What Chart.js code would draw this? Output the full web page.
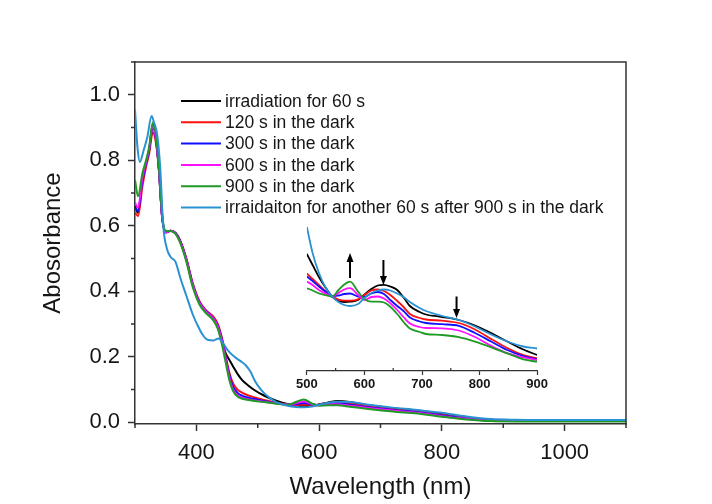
<!DOCTYPE html>
<html><head><meta charset="utf-8">
<script src="https://cdn.jsdelivr.net/npm/chart.js@4.4.1/dist/chart.umd.min.js"></script>
<style>
html,body{margin:0;padding:0;background:#fff;}
#wrap{position:relative;width:712px;height:504px;background:#fff;}
#main{position:absolute;left:0;top:0;}
#inset{position:absolute;left:294px;top:211px;}
</style></head><body>
<div id="wrap"><canvas id="main" width="712" height="504"></canvas><canvas id="inset" width="256" height="190"></canvas></div>
<script>
// ---------- DATA ----------
const seriesLabels = ['irradiation for 60 s','120 s in the dark','300 s in the dark','600 s in the dark','900 s in the dark','irraidaiton for another 60 s after 900 s in the dark'];
const seriesColors = ['#000000','#ff1010','#1010ff','#ff10ff','#1f9a24','#2a92d2'];

const xTicks = [400, 600, 800, 1000];
const xMinorTicks = [300, 500, 700, 900, 1100];
const yTicks = [0.0, 0.2, 0.4, 0.6, 0.8, 1.0];
const yMinorTicks = [0.1, 0.3, 0.5, 0.7, 0.9, 1.1];

const wlMain = [300,305,312,318,323,329,334,339,344,350, 358,366,374,384,394,405,416,427,435,442, 448,454,460,467,475,485,495,510,530,550, 563,575,588,600,615,630,650,680,720,760, 800,840,880,920,1000,1100];
const absIrr60 = [0.66,0.64,0.74,0.79,0.83,0.91,0.87,0.77,0.63,0.58, 0.585,0.578,0.552,0.495,0.42,0.365,0.337,0.317,0.29,0.245, 0.21,0.19,0.17,0.148,0.128,0.112,0.098,0.082,0.066,0.055, 0.051,0.05,0.051,0.055,0.061,0.065,0.062,0.052,0.043,0.036, 0.026,0.015,0.008,0.006,0.005,0.005];
const absDark120 = [0.64,0.63,0.72,0.78,0.82,0.885,0.855,0.77,0.63,0.58, 0.585,0.578,0.553,0.498,0.425,0.37,0.342,0.324,0.3,0.255, 0.2,0.15,0.118,0.1,0.09,0.082,0.076,0.068,0.06,0.054, 0.053,0.054,0.053,0.054,0.059,0.061,0.057,0.049,0.04,0.033, 0.023,0.013,0.007,0.005,0.005,0.005];
const absDark300 = [0.655,0.645,0.735,0.79,0.83,0.9,0.865,0.77,0.63,0.58, 0.585,0.578,0.552,0.496,0.422,0.367,0.34,0.32,0.295,0.25, 0.195,0.142,0.108,0.09,0.081,0.075,0.071,0.065,0.059,0.054, 0.056,0.059,0.055,0.053,0.057,0.058,0.054,0.046,0.038,0.031, 0.021,0.012,0.006,0.005,0.005,0.005];
const absDark600 = [0.67,0.655,0.745,0.795,0.835,0.905,0.87,0.775,0.632,0.58, 0.585,0.577,0.55,0.494,0.42,0.365,0.338,0.318,0.292,0.245, 0.19,0.135,0.1,0.083,0.075,0.07,0.067,0.063,0.058,0.054, 0.059,0.064,0.056,0.052,0.055,0.055,0.051,0.044,0.036,0.029, 0.019,0.011,0.005,0.004,0.004,0.004];
const absDark900 = [0.74,0.69,0.76,0.80,0.84,0.915,0.88,0.78,0.64,0.585, 0.584,0.575,0.546,0.488,0.413,0.36,0.333,0.313,0.285,0.235, 0.18,0.127,0.095,0.079,0.072,0.068,0.065,0.062,0.057,0.054, 0.063,0.07,0.058,0.051,0.052,0.052,0.048,0.041,0.033,0.027, 0.017,0.009,0.004,0.003,0.003,0.003];
const wlIrrAgain = [300,304,308,314,320,327,331,336,341,346, 352,358,366,374,384,394,401,410,418,428, 436,444,452,462,472,480,488,495,503,510, 520,532,550,563,575,588,600,615,630,650, 680,720,760,800,840,880,920,1000,1100];
const absIrrAgain = [0.955,0.84,0.795,0.83,0.87,0.935,0.915,0.88,0.78,0.6, 0.53,0.505,0.49,0.44,0.385,0.33,0.3,0.268,0.252,0.25, 0.256,0.24,0.218,0.2,0.187,0.175,0.155,0.128,0.105,0.09, 0.074,0.06,0.05,0.047,0.046,0.048,0.054,0.06,0.063,0.062, 0.054,0.045,0.038,0.029,0.018,0.01,0.008,0.007,0.007];

// inset (magnified 500-900 nm, arbitrary units)
const insetXTicks = [500, 600, 700, 800, 900];
const insetXMinor = [550, 650, 750, 850];
const wlInset = [500,510,521,533,544,555,565,575,589,600, 612,623,634,645,657,668,679,696,707,735, 764,792,820,848,876,900];
const insIrr60 = [1.17,1.06,0.94,0.83,0.745,0.70,0.69,0.693,0.71,0.765, 0.82,0.855,0.862,0.845,0.81,0.735,0.65,0.59,0.565,0.54, 0.51,0.455,0.38,0.295,0.215,0.16];
const insDark120 = [0.975,0.92,0.86,0.795,0.745,0.715,0.703,0.703,0.717,0.76, 0.805,0.815,0.8,0.76,0.7,0.64,0.57,0.53,0.515,0.503, 0.48,0.415,0.32,0.23,0.16,0.127];
const insDark300 = [0.945,0.9,0.845,0.79,0.745,0.755,0.77,0.775,0.745,0.742, 0.775,0.79,0.77,0.71,0.65,0.6,0.535,0.495,0.48,0.468, 0.452,0.38,0.295,0.21,0.15,0.117];
const insDark600 = [0.895,0.86,0.81,0.775,0.745,0.78,0.815,0.828,0.76,0.71, 0.74,0.745,0.725,0.677,0.61,0.54,0.475,0.44,0.43,0.427, 0.405,0.34,0.252,0.178,0.137,0.11];
const insDark900 = [0.827,0.805,0.777,0.758,0.745,0.81,0.865,0.893,0.793,0.72, 0.693,0.693,0.685,0.643,0.57,0.49,0.425,0.39,0.37,0.36, 0.338,0.293,0.237,0.177,0.117,0.093];
const insIrrAgain = [1.44,1.18,0.98,0.83,0.745,0.69,0.66,0.65,0.67,0.73, 0.78,0.805,0.815,0.805,0.775,0.74,0.69,0.63,0.6,0.55, 0.51,0.445,0.365,0.295,0.245,0.225];
// arrows in the inset: wavelength, start value, end value
const insetArrows = [[575, 0.93, 1.18], [633, 1.11, 0.86], [760, 0.745, 0.53]];

// ---------- HELPERS ----------
const FONT = "'Liberation Sans', Arial, Helvetica, sans-serif";
const TXT = '#161616';
const AX = '#333333';
const xy = (xs, ys) => xs.map((x, i) => ({x: x, y: ys[i]}));

const mainSeries = [
  xy(wlMain, absIrr60), xy(wlMain, absDark120), xy(wlMain, absDark300),
  xy(wlMain, absDark600), xy(wlMain, absDark900), xy(wlIrrAgain, absIrrAgain)
];
const insetSeries = [
  xy(wlInset, insIrr60), xy(wlInset, insDark120), xy(wlInset, insDark300),
  xy(wlInset, insDark600), xy(wlInset, insDark900), xy(wlInset, insIrrAgain)
];

const framePlugin = {
  id: 'frame',
  afterDraw(chart) {
    const {ctx, chartArea: a} = chart;
    ctx.save();
    ctx.strokeStyle = AX; ctx.lineWidth = 1.5;
    ctx.beginPath();
    ctx.moveTo(a.left, a.top); ctx.lineTo(a.right, a.top); ctx.lineTo(a.right, a.bottom);
    ctx.stroke();
    const xs = chart.scales.x, ys = chart.scales.y;
    ctx.beginPath();
    xMinorTicks.forEach(v => { const p = xs.getPixelForValue(v); ctx.moveTo(p, a.bottom); ctx.lineTo(p, a.bottom + 4); });
    yMinorTicks.forEach(v => { const p = ys.getPixelForValue(v); ctx.moveTo(a.left, p); ctx.lineTo(a.left - 4, p); });
    ctx.stroke();
    ctx.restore();
  }
};

const legendPlugin = {
  id: 'inlegend',
  afterDraw(chart) {
    const {ctx, chartArea: a} = chart;
    ctx.save();
    ctx.font = '17.5px ' + FONT;
    ctx.textBaseline = 'middle';
    ctx.fillStyle = TXT;
    const x0 = a.left + 46, y0 = a.top + 39, dy = 21.3;
    seriesLabels.forEach((lab, i) => {
      const y = y0 + i * dy;
      ctx.strokeStyle = seriesColors[i]; ctx.lineWidth = 2;
      ctx.beginPath(); ctx.moveTo(x0, y); ctx.lineTo(x0 + 40, y); ctx.stroke();
      ctx.fillText(lab, x0 + 44, y + 1);
    });
    ctx.restore();
  }
};

new Chart(document.getElementById('main'), {
  type: 'line',
  data: {
    datasets: mainSeries.map((d, i) => ({
      label: seriesLabels[i], data: d, borderColor: seriesColors[i], backgroundColor: seriesColors[i],
      borderWidth: 2, pointRadius: 0, fill: false, cubicInterpolationMode: 'monotone', order: 5 - i
    }))
  },
  options: {
    responsive: false, animation: false, parsing: false,
    layout: {padding: {top: 62, right: 86, left: 0, bottom: 0}},
    plugins: {legend: {display: false}, tooltip: {enabled: false}},
    scales: {
      x: {
        type: 'linear', min: 300, max: 1100,
        afterBuildTicks: s => { s.ticks = xTicks.map(v => ({value: v})); },
        afterFit: s => { s.height = 80; },
        ticks: {font: {family: FONT, size: 22}, color: TXT, padding: 9, maxRotation: 0, callback: v => String(v)},
        grid: {drawOnChartArea: false, drawTicks: true, tickLength: 7, tickColor: AX, tickWidth: 1.5},
        border: {color: AX, width: 1.5},
        title: {display: true, text: 'Wavelength (nm)', font: {family: FONT, size: 24}, color: TXT, padding: {top: 0, bottom: 2}}
      },
      y: {
        type: 'linear', min: -0.005, max: 1.1,
        afterBuildTicks: s => { s.ticks = yTicks.map(v => ({value: v})); },
        afterFit: s => { s.width = 135; },
        ticks: {font: {family: FONT, size: 22}, color: TXT, padding: 8, callback: v => v.toFixed(1)},
        grid: {drawOnChartArea: false, drawTicks: true, tickLength: 7, tickColor: AX, tickWidth: 1.5},
        border: {color: AX, width: 1.5},
        title: {display: true, text: 'Abosorbance', font: {family: FONT, size: 24}, color: TXT, padding: {top: 39, bottom: 0}}
      }
    }
  },
  plugins: [framePlugin, legendPlugin]
});

const insetDeco = {
  id: 'insetDeco',
  afterDraw(chart) {
    const {ctx, chartArea: a} = chart;
    const xs = chart.scales.x, ys = chart.scales.y;
    ctx.save();
    ctx.strokeStyle = AX; ctx.lineWidth = 1.2;
    ctx.beginPath();
    insetXMinor.forEach(v => { const p = xs.getPixelForValue(v); ctx.moveTo(p, a.bottom); ctx.lineTo(p, a.bottom - 3); });
    ctx.stroke();
    ctx.strokeStyle = '#000'; ctx.fillStyle = '#000'; ctx.lineWidth = 2;
    insetArrows.forEach(([wl, from, to]) => {
      const px = xs.getPixelForValue(wl), p1 = ys.getPixelForValue(from), p2 = ys.getPixelForValue(to);
      const dir = p2 > p1 ? 1 : -1;
      ctx.beginPath(); ctx.moveTo(px, p1); ctx.lineTo(px, p2 - dir * 6); ctx.stroke();
      ctx.beginPath(); ctx.moveTo(px, p2); ctx.lineTo(px - 3.5, p2 - dir * 9); ctx.lineTo(px + 3.5, p2 - dir * 9); ctx.closePath(); ctx.fill();
    });
    ctx.restore();
  }
};

new Chart(document.getElementById('inset'), {
  type: 'line',
  data: {
    datasets: insetSeries.map((d, i) => ({
      label: seriesLabels[i], data: d, borderColor: seriesColors[i], borderWidth: 1.8,
      pointRadius: 0, fill: false, cubicInterpolationMode: 'monotone', order: 5 - i
    }))
  },
  options: {
    responsive: false, animation: false, parsing: false,
    layout: {padding: {top: 10, right: 9, left: 10, bottom: 0}},
    plugins: {legend: {display: false}, tooltip: {enabled: false}},
    scales: {
      x: {
        type: 'linear', min: 500, max: 900,
        afterBuildTicks: s => { s.ticks = insetXTicks.map(v => ({value: v})); },
        afterFit: s => { s.height = 30; },
        ticks: {font: {family: FONT, size: 13, weight: 'bold'}, color: TXT, padding: 2, maxRotation: 0, callback: v => String(v)},
        grid: {drawOnChartArea: false, drawTicks: true, tickLength: 4, tickColor: AX, tickWidth: 1.2},
        border: {color: AX, width: 1.2}
      },
      y: {type: 'linear', display: false, min: 0, max: 1.5}
    }
  },
  plugins: [insetDeco]
});
</script>
</body></html>
